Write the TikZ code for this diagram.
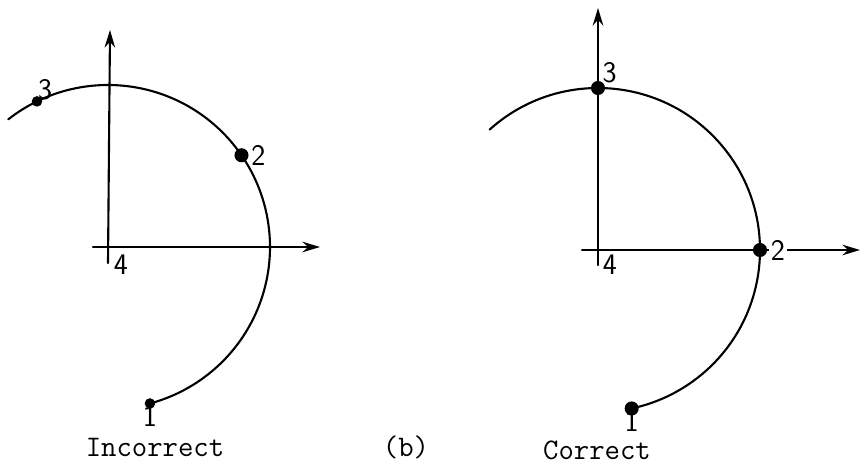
\documentclass[tikz,border=0pt]{standalone}
\usetikzlibrary{arrows.meta,calc}
\begin{document}
\begin{tikzpicture}[x=0.2cm, y=0.2cm, line width=1.2pt, line join=round, line cap=round, >={Stealth[length=10pt,width=6pt]},
  num/.style={font=\sffamily\fontsize{17}{19}\selectfont, inner sep=1pt},
  captxt/.style={font=\ttfamily\fontsize{17}{20}\selectfont, inner sep=0pt},
  dot/.style={circle, fill, inner sep=0pt, minimum size=#1}]
  \useasboundingbox (0,0) rectangle (86.1,47.2);
  % Incorrect
  \coordinate (O) at (10.8,22.5);
  \coordinate (Xl) at (9.3,22.5);
  \coordinate (Xr) at (32.0,22.5);
  \coordinate (Yb) at (10.8,20.9);
  \coordinate (Yt) at (11.0,44.2);
  \draw[->] (Xl) -- (Xr);
  \draw[->] (Yb) -- (Yt);
  \draw (O) ++(128:16.2) arc[start angle=128, end angle=-75, radius=16.2];
  \node[dot=6pt] (P3) at ($(O)+(116:16.2)$) {};
  \node[dot=8pt] (P2) at ($(O)+(34.5:16.2)$) {};
  \node[dot=6pt] (P1) at ($(O)+(-75:16.2)$) {};
  \node[num, above right, inner sep=0pt] at (P3) {3};
  \node[num, right=4pt] at (P2) {2};
  \node[num, below] at (P1) {1};
  \node[num, anchor=north west] at ($(O)+(0.3,-0.5)$) {4};
  % Correct
  \coordinate (Q) at (59.8,22.2);
  \coordinate (Ul) at (58.2,22.2);
  \coordinate (Ur) at (86.0,22.2);
  \coordinate (Vb) at (59.8,20.7);
  \coordinate (Vt) at (59.8,46.4);
  \draw[->] (Ul) -- (Ur);
  \draw[->] (Vb) -- (Vt);
  \draw (Q) ++(132:16.2) arc[start angle=132, end angle=-78, radius=16.2];
  \node[dot=8pt] (R3) at ($(Q)+(90:16.2)$) {};
  \node[dot=8pt] (R2) at ($(Q)+(0:16.2)$) {};
  \node[dot=8pt] (R1) at ($(Q)+(-78:16.2)$) {};
  \node[num, above right, inner sep=2pt] at (R3) {3};
  \node[num, right, fill=white] at (R2.east) {2};
  \node[num, below] at (R1) {1};
  \node[num, anchor=north west] at ($(Q)+(0.2,-0.2)$) {4};
  % captions
  \node[captxt] (inc) at (15.5,2.5) {Incorrect};
  \node[captxt] (sub) at (40.6,2.5) {(b)};
  \node[captxt] (cor) at (59.7,2.2) {Correct};
\end{tikzpicture}
\end{document}
